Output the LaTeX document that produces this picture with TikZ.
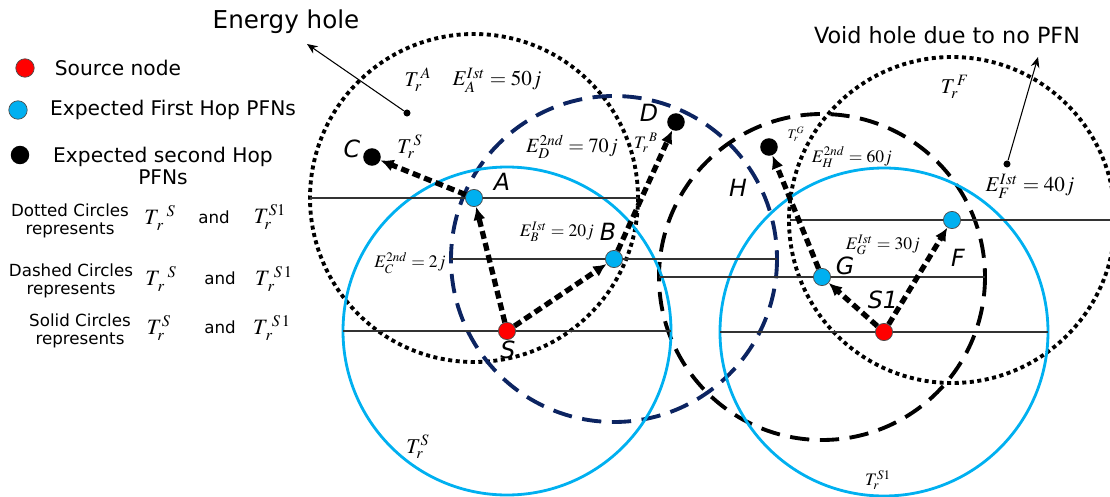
\documentclass[tikz,border=0pt]{standalone}
\usepackage{mathptmx}
\usepackage[no-math]{fontspec}
\setmainfont{DejaVu Sans}
\usepackage{xcolor}
\usetikzlibrary{arrows.meta,calc,backgrounds}
\definecolor{pfnblue}{RGB}{0,176,240}
\definecolor{navy}{RGB}{12,36,97}
\tikzset{
  src/.style={circle,draw=black!70,fill=red,minimum size=9.8pt,inner sep=0pt},
  pfn1/.style={circle,draw=black!70,fill=pfnblue,minimum size=9.8pt,inner sep=0pt},
  pfn2/.style={circle,fill=black,minimum size=10pt,inner sep=0pt},
  dotm/.style={circle,fill=black,minimum size=4pt,inner sep=0pt},
  dotc/.style={draw=black,line width=2.2pt,dash pattern=on 2.3pt off 2pt},
  dashc/.style={line width=2.2pt,dash pattern=on 11pt off 6pt},
  solc/.style={draw=pfnblue,line width=1.6pt},
  radl/.style={draw=black!80,line width=0.7pt},
  hop/.style={-{Latex[length=7.5pt,width=7pt]},line width=3pt,dash pattern=on 4.5pt off 2.5pt},
  ptr/.style={-{Stealth[length=6pt,width=5pt]},line width=0.6pt},
  lbl/.style={font=\fontsize{13.5}{13.5}\selectfont\itshape},
  txt/.style={font=\fontsize{11.5}{13}\selectfont,align=center},
  sml/.style={font=\fontsize{9.5}{10.3}\selectfont,align=center},
  mth/.style={font=\fontsize{12}{12}\selectfont},
  mths/.style={font=\fontsize{10}{10}\selectfont},
  mthk/.style={font=\fontsize{12.5}{12.5}\selectfont},
}

\begin{document}
\begin{tikzpicture}[x=0.02cm,y=-0.02cm]
\useasboundingbox (0,0) rectangle (1110,497);
% nodes
\node[src] (S) at (507,331) {};
\node[src] (S1) at (884,332) {};
\node[pfn1] (A) at (474,198) {};
\node[pfn1] (B) at (614,259) {};
\node[pfn1] (G) at (822,277) {};
\node[pfn1] (F) at (952,220) {};
\node[pfn2] (C) at (372,157) {};
\node[pfn2] (D) at (676,122) {};
\node[pfn2] (H) at (769,147) {};
% ranges
\begin{scope}[on background layer]
\draw[dotc] (A.center) circle (164);
\draw[dotc] (F.center) circle (163);
\draw[dashc,draw=navy] (B.center) circle (163);
\draw[dashc,draw=black] (G.center) circle (163);
\draw[solc] (S.center) circle (164);
\draw[solc] (S1.center) circle (164);
\foreach \n/\r in {A/164,S/164,B/163,G/163,S1/164,F/162} {\draw[radl] ($(\n)+(-\r,0)$) -- ($(\n)+(\r,0)$);}
\end{scope}
\foreach \a/\b in {S/A,S/B,A/C,B/D,S1/G,S1/F,G/H} {\draw[hop] (\a) -- (\b);}
\foreach \n/\x/\y in {C/352/149,A/502/182,D/649/113,B/608/232,S/508/350,H/738/188,G/845/266,S1/883/300,F/958/258} {\node[lbl] (l\n) at (\x,\y) {\n};}
% energy labels
\node[mth] (tA) at (418,80) {$T_r^{\,A}$};
\node[mth] (eA) at (497,80) {$E_A^{Ist}=50j$};
\node[mth] (tS) at (410,147) {$T_r^{\,S}$};
\node[font=\fontsize{11.5}{11.5}\selectfont] (eD) at (572,147) {$E_D^{2nd}=70j$};
\node[mths] (tB) at (646,143) {$T_r^{\;B}$};
\node[mths] (eB) at (557,232) {$E_B^{Ist}=20j$};
\node[mths] (eC) at (410,263) {$E_C^{2nd}=2j$};
\node[font=\fontsize{7.5}{7.5}\selectfont] (tG) at (796,134) {$T_r^{G}$};
\node[mths] (eH) at (852,157) {$E_H^{2nd}=60j$};
\node[mth] (tF) at (955,87) {$T_r^{\,F}$};
\node[mth] (eF) at (1030,186) {$E_F^{Ist}=40j$};
\node[mths] (eG) at (883,245) {$E_G^{Ist}=30j$};
\node[mth] (tS0) at (418,447) {$T_r^S$};
\node[mths] (tS1) at (878,480) {$T_r^{S1}$};
% holes
\node[dotm] (eh) at (407,113) {};
\coordinate (ehtip) at (307,44);
\draw[ptr] (eh) -- (ehtip);
\node[font=\fontsize{14}{14}\selectfont] (ehtxt) at (286,22) {Energy hole};
\node[dotm] (vh) at (1007,164) {};
\coordinate (vhtip) at (1038,57);
\draw[ptr] (vh) -- (vhtip);
\node[font=\fontsize{12.7}{13}\selectfont] (vhtxt) at (947,35) {Void hole due to no PFN};
% legend
\node[src,minimum size=10.5pt] (kS) at (25,68) {};
\node[pfn1,minimum size=10.5pt] (kP1) at (18,110) {};
\node[pfn2,minimum size=10.5pt] (kP2) at (20,155) {};
\node[txt] (kSt) at (118,68) {Source node};
\node[txt] (kP1t) at (173,110) {Expected First Hop PFNs};
\node[txt] (kP2t) at (163,166) {Expected second Hop\\PFNs};
\node[sml] (kdot) at (70,221) {Dotted Circles\\represents};
\node[mthk] (kdot1) at (160,218) {$T_{\,r}^{\;\;S}$};
\node[sml] (kdot2) at (214,217) {and};
\node[mthk] (kdot3) at (270,217) {$T_r^{S1}$};
\node[sml] (kdsh) at (71,281) {Dashed Circles\\represents};
\node[mthk] (kdsh1) at (161,279) {$T_{\,r}^{\;\;S}$};
\node[sml] (kdsh2) at (220,278) {and};
\node[mthk] (kdsh3) at (274,279) {$T_{\,r}^{\;S\,1}$};
\node[sml] (ksol) at (80,331) {Solid Circles\\represents};
\node[mthk] (ksol1) at (159,328) {$T_r^S$};
\node[sml] (ksol2) at (220,327) {and};
\node[mthk] (ksol3) at (272,328) {$T_{\,r}^{\;S\,1}$};
\end{tikzpicture}
\end{document}
